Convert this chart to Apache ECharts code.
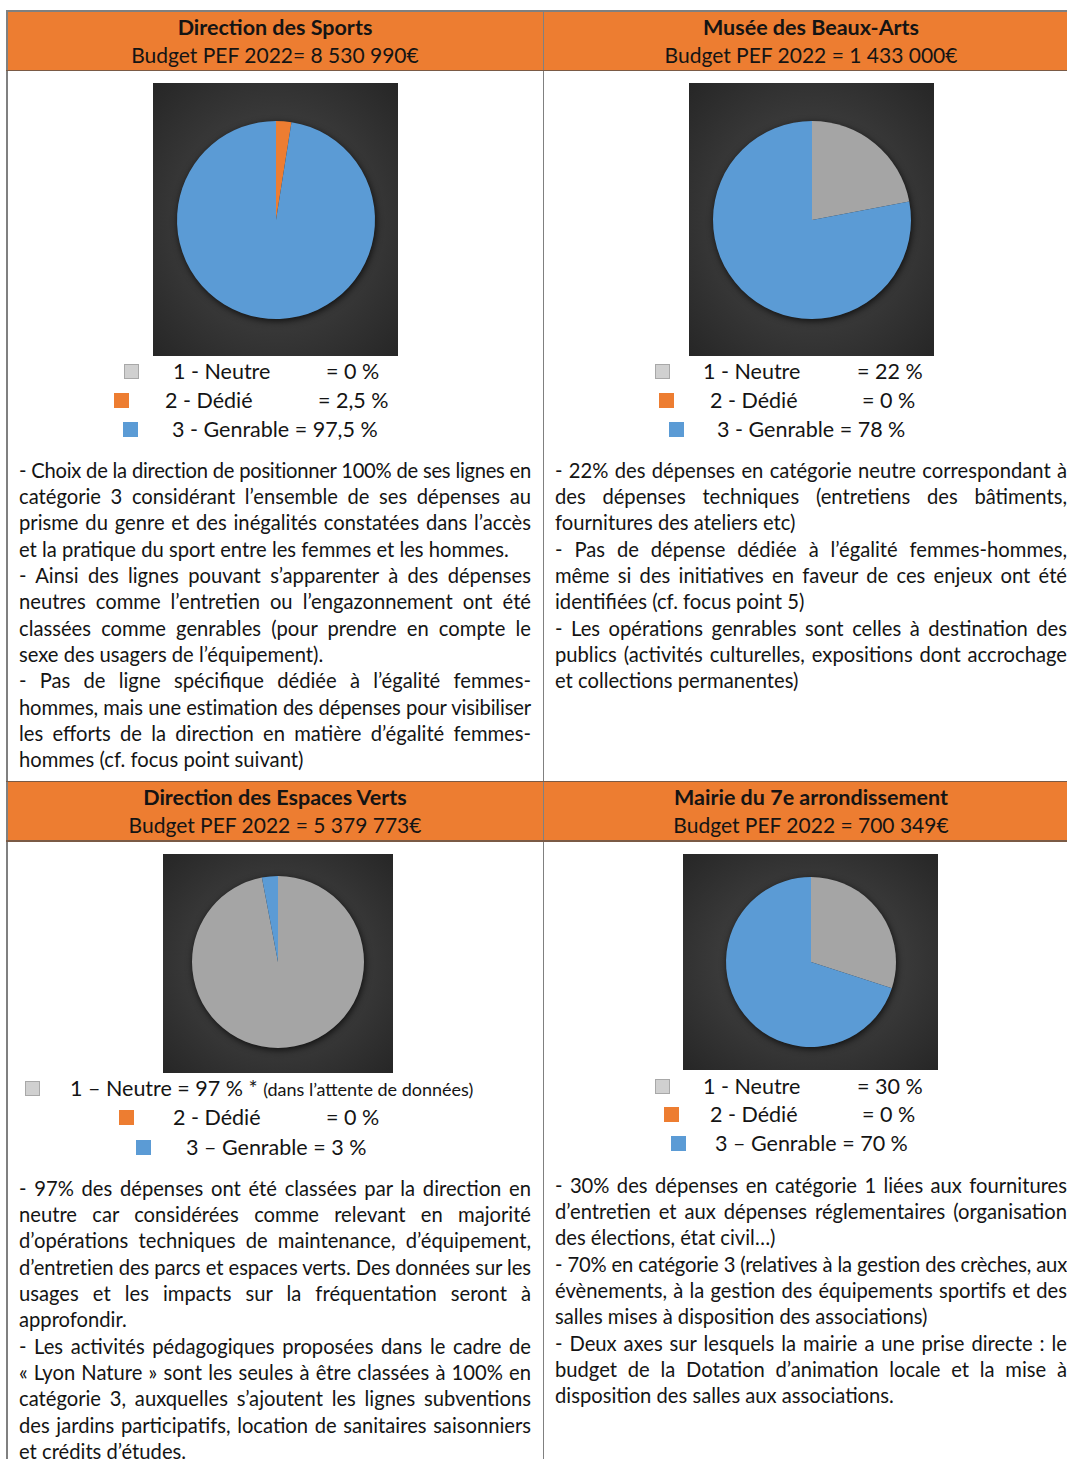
<!DOCTYPE html>
<html lang="fr">
<head>
<meta charset="utf-8">
<title>Budget PEF 2022</title>
<script src="https://cdn.jsdelivr.net/npm/echarts@6/dist/echarts.min.js"></script>
<style>
  html, body { margin: 0; padding: 0; background: #fff; }
  #page { position: relative; width: 1067px; height: 1459px; overflow: hidden; font-family: Lato, "Open Sans", sans-serif; color: #141414; }
  .line { position: absolute; background: #808080; }
  .head { position: absolute; background: #ED7D31; }
  .htxt { position: absolute; width: 536px; text-align: center; font-size: 21px; line-height: 28px; white-space: nowrap; }
  .htxt.b { font-weight: bold; font-size: 21.5px; }
  .box { position: absolute; background: radial-gradient(ellipse at 50% 50%, #4a4a4a 0%, #3c3c3c 45%, #262626 100%); }
  .sq { position: absolute; width: 15px; height: 15px; box-sizing: border-box; }
  .lt { position: absolute; font-size: 21.5px; line-height: 28px; white-space: nowrap; }
  .note { font-size: 18px; }
  .para { position: absolute; width: 512px; font-size: 20.2px; }
  .pl { height: 26.3px; line-height: 26.3px; white-space: nowrap; overflow: visible; }
  .pl.j { text-align: justify; text-align-last: justify; }
  .pl.l { text-align: left; }
</style>
</head>
<body>
<div id="page"></div>
<script>
// ---------- DATA ----------
const categories = ['1 - Neutre', '2 - Dédié', '3 - Genrable'];
const units = ['Direction des Sports', 'Musée des Beaux-Arts', 'Direction des Espaces Verts', 'Mairie du 7e arrondissement'];
const budgets = ['Budget PEF 2022= 8 530 990€', 'Budget PEF 2022 = 1 433 000€', 'Budget PEF 2022 = 5 379 773€', 'Budget PEF 2022 = 700 349€'];
const neutre = [0, 22, 97, 30];
const dedie = [2.5, 0, 0, 0];
const genrable = [97.5, 78, 3, 70];
const legendLabels = [
  ['1 - Neutre', '2 - Dédié', '3 - Genrable'],
  ['1 - Neutre', '2 - Dédié', '3 - Genrable'],
  ['1 – Neutre', '2 - Dédié', '3 – Genrable'],
  ['1 - Neutre', '2 - Dédié', '3 – Genrable']
];
const legendNotes = ['', '', ' * ', ''];
const legendNoteSmall = ['', '', '(dans l’attente de données)', ''];
const paragraphs = [
  [
    ['- Choix de la direction de positionner 100% de ses lignes en', 'j'],
    ['catégorie 3 considérant l’ensemble de ses dépenses au', 'j'],
    ['prisme du genre et des inégalités constatées dans l’accès', 'j'],
    ['et la pratique du sport entre les femmes et les hommes.', 'l'],
    ['- Ainsi des lignes pouvant s’apparenter à des dépenses', 'j'],
    ['neutres comme l’entretien ou l’engazonnement ont été', 'j'],
    ['classées comme genrables (pour prendre en compte le', 'j'],
    ['sexe des usagers de l’équipement).', 'l'],
    ['- Pas de ligne spécifique dédiée à l’égalité femmes-', 'j'],
    ['hommes, mais une estimation des dépenses pour visibiliser', 'j'],
    ['les efforts de la direction en matière d’égalité femmes-', 'j'],
    ['hommes (cf. focus point suivant)', 'l']
  ],
  [
    ['- 22% des dépenses en catégorie neutre correspondant à', 'j'],
    ['des dépenses techniques (entretiens des bâtiments,', 'j'],
    ['fournitures des ateliers etc)', 'l'],
    ['- Pas de dépense dédiée à l’égalité femmes-hommes,', 'j'],
    ['même si des initiatives en faveur de ces enjeux ont été', 'j'],
    ['identifiées (cf. focus point 5)', 'l'],
    ['- Les opérations genrables sont celles à destination des', 'j'],
    ['publics (activités culturelles, expositions dont accrochage', 'j'],
    ['et collections permanentes)', 'l']
  ],
  [
    ['- 97% des dépenses ont été classées par la direction en', 'j'],
    ['neutre car considérées comme relevant en majorité', 'j'],
    ['d’opérations techniques de maintenance, d’équipement,', 'j'],
    ['d’entretien des parcs et espaces verts. Des données sur les', 'j'],
    ['usages et les impacts sur la fréquentation seront à', 'j'],
    ['approfondir.', 'l'],
    ['- Les activités pédagogiques proposées dans le cadre de', 'j'],
    ['« Lyon Nature » sont les seules à être classées à 100% en', 'j'],
    ['catégorie 3, auxquelles s’ajoutent les lignes subventions', 'j'],
    ['des jardins participatifs, location de sanitaires saisonniers', 'j'],
    ['et crédits d’études.', 'l']
  ],
  [
    ['- 30% des dépenses en catégorie 1 liées aux fournitures', 'j'],
    ['d’entretien et aux dépenses réglementaires (organisation', 'j'],
    ['des élections, état civil…)', 'l'],
    ['- 70% en catégorie 3 (relatives à la gestion des crèches, aux', 'j'],
    ['évènements, à la gestion des équipements sportifs et des', 'j'],
    ['salles mises à disposition des associations)', 'l'],
    ['- Deux axes sur lesquels la mairie a une prise directe : le', 'j'],
    ['budget de la Dotation d’animation locale et la mise à', 'j'],
    ['disposition des salles aux associations.', 'l']
  ]
];

// ---------- STYLE / LAYOUT ----------
const colors = ['#A5A5A5', '#ED7D31', '#5B9BD5'];
const legendSquareColors = ['#D0D0D0', '#ED7D31', '#5B9BD5'];
const layout = [
  { cellX: 7, headY: 11, box: [153, 83, 245, 273], center: [123, 137], r: 99,
    legend: [ { y: 371, sq: 124, lab: 173, val: 326 }, { y: 400, sq: 114, lab: 165, val: 318 }, { y: 429, sq: 123, lab: 172, val: null } ],
    textY: 470 },
  { cellX: 543, headY: 11, box: [689, 83, 245, 273], center: [123, 137], r: 99,
    legend: [ { y: 371, sq: 655, lab: 703, val: 857 }, { y: 400, sq: 659, lab: 710, val: 862 }, { y: 429, sq: 669, lab: 717, val: null } ],
    textY: 470 },
  { cellX: 7, headY: 781, box: [163, 854, 230, 219], center: [115, 108], r: 86,
    legend: [ { y: 1088, sq: 25, lab: 70, val: null }, { y: 1117, sq: 119, lab: 173, val: 326 }, { y: 1147, sq: 136, lab: 186, val: null } ],
    textY: 1188 },
  { cellX: 543, headY: 781, box: [683, 854, 255, 216], center: [128, 108], r: 85,
    legend: [ { y: 1086, sq: 655, lab: 703, val: 857 }, { y: 1114, sq: 664, lab: 710, val: 862 }, { y: 1143, sq: 671, lab: 715, val: null } ],
    textY: 1185 }
];

const page = document.getElementById('page');
function el(cls, css, html) {
  const d = document.createElement('div');
  d.className = cls;
  Object.assign(d.style, css);
  if (html !== undefined) d.innerHTML = html;
  page.appendChild(d);
  return d;
}
const fmt = v => String(v).replace('.', ',') + ' %';

// header bands
[11, 781].forEach(y => el('head', { left: '7px', top: y + 'px', width: '1072px', height: '59px' }));
// grid lines
el('line', { left: '6px', top: '10px', width: '1.5px', height: '1460px' });
el('line', { left: '542.5px', top: '10px', width: '1.5px', height: '1460px' });
[10, 69.5, 780.5, 840].forEach(y => el('line', { left: '6px', top: y + 'px', width: '1070px', height: '1.5px', background: y === 10 ? '#808080' : '#7a5a45' }));

units.forEach((u, i) => {
  const L = layout[i];
  // header text
  el('htxt b', { left: L.cellX + 'px', top: (L.headY + 2) + 'px' }, u);
  el('htxt', { left: L.cellX + 'px', top: (L.headY + 30) + 'px' }, budgets[i]);

  // chart box
  const box = el('box', { left: L.box[0] + 'px', top: L.box[1] + 'px', width: L.box[2] + 'px', height: L.box[3] + 'px' });
  const chart = echarts.init(box, null, { renderer: 'canvas' });
  const vals = [neutre[i], dedie[i], genrable[i]];
  const total = vals.reduce((a, b) => a + b, 0);
  chart.setOption({
    backgroundColor: 'transparent',
    animation: false,
    series: [
      { type: 'pie', silent: true, radius: L.r, center: L.center, label: { show: false }, labelLine: { show: false },
        itemStyle: { color: '#2a2a2a', shadowBlur: 7, shadowColor: 'rgba(0,0,0,0.75)', shadowOffsetX: 1, shadowOffsetY: 2 },
        data: [{ value: total, name: 'total' }] },
      { type: 'pie', silent: true, radius: L.r, center: L.center, startAngle: 90, clockwise: true,
        label: { show: false }, labelLine: { show: false }, emphasis: { disabled: true },
        itemStyle: { borderWidth: 0 },
        data: categories.map((c, k) => ({ name: c, value: vals[k], itemStyle: { color: colors[k] } })) }
    ]
  });

  // legend
  L.legend.forEach((row, k) => {
    el('sq', { left: row.sq + 'px', top: (row.y - 7.5) + 'px', background: legendSquareColors[k],
      border: k === 0 ? '1px solid #a8a8a8' : 'none' });
    const label = legendLabels[i][k];
    const v = fmt(vals[k]);
    if (row.val === null) {
      let html = label + ' = ' + v;
      if (k === 0 && legendNotes[i]) html += legendNotes[i] + '<span class="note">' + legendNoteSmall[i] + '</span>';
      el('lt', { left: row.lab + 'px', top: (row.y - 14) + 'px' }, html);
    } else {
      el('lt', { left: row.lab + 'px', top: (row.y - 14) + 'px' }, label);
      el('lt', { left: row.val + 'px', top: (row.y - 14) + 'px' }, '= ' + v);
    }
  });

  // paragraph
  const para = el('para', { left: (L.cellX + 12) + 'px', top: (L.textY - 13.15) + 'px' });
  paragraphs[i].forEach(([t, m]) => {
    const d = document.createElement('div');
    d.className = 'pl ' + m;
    d.textContent = t;
    para.appendChild(d);
  });
});

// fit justified lines that are naturally wider than the column
document.fonts && document.fonts.ready.then(fit);
fit();
function fit() {
  document.querySelectorAll('.pl').forEach(d => {
    d.style.letterSpacing = '0px';
    const s = document.createElement('span');
    s.textContent = d.textContent;
    s.style.whiteSpace = 'nowrap';
    d.textContent = '';
    d.appendChild(s);
    const w = s.getBoundingClientRect().width;
    const W = 512;
    if (w > W) {
      d.style.letterSpacing = ((W - w) / s.textContent.length - 0.02) + 'px';
    }
    d.textContent = s.textContent;
  });
}
</script>
</body>
</html>
